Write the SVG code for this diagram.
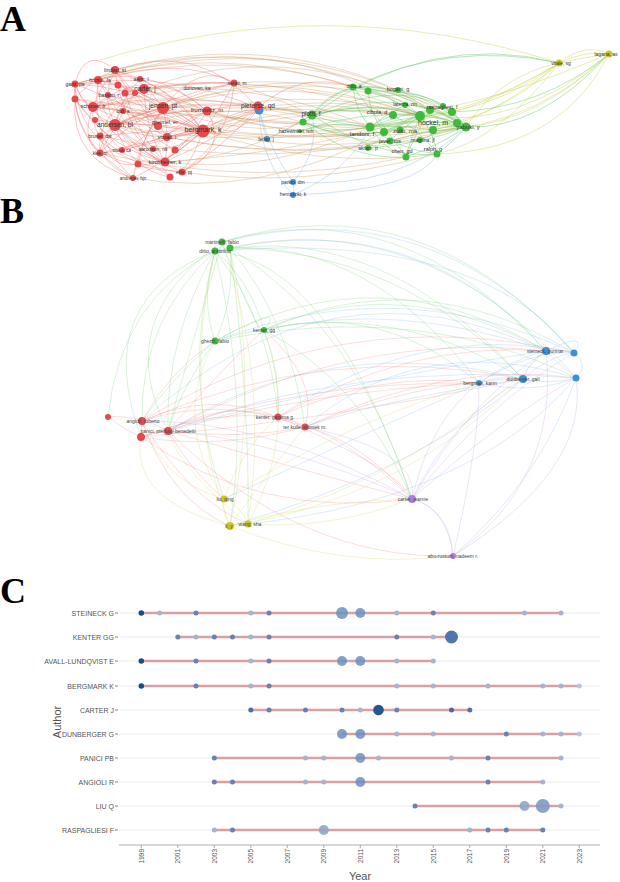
<svg xmlns="http://www.w3.org/2000/svg" width="620" height="882" viewBox="0 0 620 882">
<style>
.pl{font-family:"Liberation Serif",serif;font-weight:bold;font-size:36px;fill:#000}
.lab{font-family:"Liberation Sans",Arial,sans-serif;fill:#333;text-anchor:middle}
.lb{font-family:"Liberation Sans",Arial,sans-serif;fill:#444;text-anchor:middle;font-size:5px}
#connectors path{fill:none;stroke-width:.6}
.er{stroke:#f06a6a;opacity:.4}
.eo{stroke:#c8955a;opacity:.35}
.eg{stroke:#5cc45c;opacity:.45}
.ey{stroke:#c6cc3a;opacity:.55}
.eb{stroke:#6aaae6;opacity:.45}
.ep{stroke:#b08ae0;opacity:.45}
#conn-a path{stroke-width:.7}
#conn-a .er{opacity:.55}
#conn-a .eo{opacity:.5}
#conn-a .eg{opacity:.6}
#conn-b path{opacity:.38}
.nr{fill:#e8474c}.ng{fill:#3dbb3d}.nb{fill:#3f8fd8}.ny{fill:#c9c724}.np{fill:#ad7fe0}
.ax{font-family:"Liberation Sans",Arial,sans-serif;fill:#555}
.grid{stroke:#ebebeb;stroke-width:1}
.rng{stroke:#d6a0a4;stroke-width:2.4}
.d1{fill:#184b8b}.d2{fill:#6a83aa}.d3{fill:#a6b4cd}.bg{fill:#6b90bf;opacity:.85}.bgd{fill:#25568f}
</style>
<rect width="620" height="882" fill="#fff"/>
<text class="pl" x="0" y="31">A</text>
<text class="pl" x="0" y="223">B</text>
<text class="pl" x="0" y="603">C</text>

<g id="connectors">
<g id="conn-a">
<path class="er" d="M115 70 Q145 80 163 108"/><path class="er" d="M115 70 Q100 97 115 125"/><path class="er" d="M115 70 Q170 85 203 131"/>
<path class="er" d="M98 80 Q135 85 163 108"/><path class="er" d="M98 80 Q95 105 115 125"/><path class="er" d="M98 80 Q160 95 203 131"/>
<path class="er" d="M75 84 Q80 100 93 107"/><path class="er" d="M75 84 Q120 85 163 108"/><path class="er" d="M75 84 Q85 112 115 125"/>
<path class="er" d="M75 84 Q72 125 100 153"/><path class="er" d="M144 89 Q180 100 203 131"/><path class="er" d="M144 89 Q122 100 115 125"/>
<path class="er" d="M144 89 Q145 130 165 162"/><path class="er" d="M93 107 Q128 100 163 108"/><path class="er" d="M93 107 Q150 112 203 131"/>
<path class="er" d="M93 107 Q115 145 165 162"/><path class="er" d="M163 108 Q185 115 203 131"/><path class="er" d="M163 108 Q140 112 115 125"/>
<path class="er" d="M163 108 Q170 135 165 162"/><path class="er" d="M163 108 Q140 140 133 178"/><path class="er" d="M115 125 Q160 122 203 131"/>
<path class="er" d="M115 125 Q135 150 165 162"/><path class="er" d="M115 125 Q100 140 100 153"/><path class="er" d="M115 125 Q150 160 182 172"/>
<path class="er" d="M203 131 Q180 140 165 162"/><path class="er" d="M203 131 Q195 155 182 172"/><path class="er" d="M203 131 Q185 131 167 137"/>
<path class="er" d="M207 111 Q185 105 163 108"/><path class="er" d="M207 111 Q160 110 115 125"/><path class="er" d="M207 111 Q140 80 75 84"/>
<path class="er" d="M158 126 Q125 110 93 107"/><path class="er" d="M158 126 Q130 95 115 70"/><path class="er" d="M100 136 Q130 115 163 108"/>
<path class="er" d="M100 136 Q150 130 203 131"/><path class="er" d="M100 153 Q150 140 203 131"/><path class="er" d="M100 153 Q125 125 163 108"/>
<path class="er" d="M122 150 Q165 140 203 131"/><path class="er" d="M153 149 Q130 140 115 125"/><path class="er" d="M138 164 Q145 130 163 108"/>
<path class="er" d="M170 177 Q135 155 115 125"/><path class="er" d="M75 99 Q140 105 203 131"/><path class="er" d="M75 99 Q110 150 165 162"/>
<path class="er" d="M234 83 Q170 95 115 125"/><path class="er" d="M234 83 Q160 80 93 107"/><path class="er" d="M234 83 Q200 92 163 108"/>
<path class="er" d="M140 79 Q120 100 115 125"/><path class="er" d="M140 79 Q180 95 203 131"/><path class="er" d="M108 95 Q160 110 203 131"/>
<path class="er" d="M175 150 Q135 125 93 107"/><path class="er" d="M133 178 Q170 160 203 131"/><path class="er" d="M258 108 Q185 105 115 125"/>
<path class="er" d="M258 108 Q210 100 163 108"/><path class="er" d="M258 108 Q175 90 93 107"/><path class="er" d="M258 108 Q170 70 75 84"/>
<path class="er" d="M258 108 Q230 112 203 131"/><path class="er" d="M258 108 Q215 140 165 162"/><path class="er" d="M182 172 Q80 160 75 84"/>
<path class="er" d="M133 178 Q70 140 75 84"/><path class="er" d="M170 177 Q120 120 115 70"/><path class="er" d="M123 111 Q165 115 203 131"/>
<path class="er" d="M75 84 Q85 45 115 70"/><path class="er" d="M95 120 Q150 125 203 131"/><path class="er" d="M118 85 Q160 105 203 131"/>
<path class="er" d="M125 93 Q140 140 165 162"/><path class="er" d="M135 93 Q110 135 100 153"/><path class="er" d="M100 136 Q130 165 165 162"/>
<path class="er" d="M100 153 Q140 170 182 172"/><path class="er" d="M207 111 Q190 140 165 162"/><path class="er" d="M207 111 Q150 150 100 153"/>
<path class="er" d="M258 108 Q220 150 182 172"/><path class="er" d="M234 83 Q230 140 182 172"/><path class="er" d="M144 89 Q95 115 100 153"/>
<path class="er" d="M167 137 Q130 120 98 80"/><path class="er" d="M153 149 Q180 120 207 111"/><path class="er" d="M138 164 Q110 170 100 136"/>
<path class="er" d="M115 70 Q200 40 258 108"/><path class="er" d="M98 80 Q180 55 234 83"/><path class="er" d="M75 99 Q70 160 133 178"/>
<path class="er" d="M75 84 Q150 60 207 111"/><path class="er" d="M93 107 Q80 140 100 153"/><path class="er" d="M115 70 Q80 110 100 136"/>
<path class="er" d="M98 80 Q90 140 133 178"/><path class="er" d="M144 89 Q190 80 234 83"/><path class="er" d="M163 108 Q200 60 234 83"/>
<path class="er" d="M115 125 Q130 170 170 177"/><path class="er" d="M93 107 Q120 90 144 89"/><path class="er" d="M75 99 Q100 130 122 150"/>
<path class="er" d="M163 108 Q150 140 122 150"/><path class="er" d="M203 131 Q180 150 153 149"/><path class="er" d="M203 131 Q160 170 138 164"/>
<path class="er" d="M258 108 Q200 130 167 137"/><path class="er" d="M258 108 Q240 140 203 131"/><path class="er" d="M258 108 Q170 155 115 125"/>
<path class="er" d="M75 84 Q140 110 158 126"/><path class="er" d="M115 70 Q150 110 167 137"/><path class="er" d="M98 80 Q140 150 165 162"/>
<path class="er" d="M207 111 Q230 150 182 172"/><path class="er" d="M234 83 Q220 110 203 131"/><path class="er" d="M100 153 Q120 175 133 178"/>
<path class="er" d="M75 99 Q90 80 115 70"/><path class="er" d="M93 107 Q150 60 207 111"/>
<path class="eo" d="M163 108 Q290 70 420 116"/><path class="eo" d="M163 108 Q240 100 312 115"/><path class="eo" d="M115 125 Q240 150 370 127"/>
<path class="eo" d="M203 131 Q310 100 420 116"/><path class="eo" d="M203 131 Q330 160 466 127"/><path class="eo" d="M203 131 Q260 120 312 115"/>
<path class="eo" d="M93 107 Q270 60 420 116"/><path class="eo" d="M93 107 Q200 90 312 115"/><path class="eo" d="M144 89 Q260 80 370 127"/>
<path class="eo" d="M144 89 Q270 70 393 115"/><path class="eo" d="M165 162 Q270 175 370 127"/><path class="eo" d="M165 162 Q240 160 312 115"/>
<path class="eo" d="M115 125 Q300 175 466 127"/><path class="eo" d="M75 84 Q210 40 353 87"/><path class="eo" d="M115 70 Q270 30 430 110"/>
<path class="eo" d="M98 80 Q230 45 368 91"/><path class="eo" d="M207 111 Q290 140 370 127"/><path class="eo" d="M207 111 Q310 85 420 116"/>
<path class="eo" d="M158 126 Q270 145 384 132"/><path class="eo" d="M167 137 Q280 160 390 141"/><path class="eo" d="M100 153 Q260 190 406 157"/>
<path class="eo" d="M182 172 Q300 190 437 154"/><path class="eo" d="M133 178 Q260 200 384 132"/><path class="eo" d="M100 136 Q270 175 433 130"/>
<path class="eo" d="M258 108 Q310 110 370 127"/><path class="eo" d="M258 108 Q340 95 420 116"/><path class="eo" d="M258 108 Q285 105 312 115"/>
<path class="eo" d="M234 83 Q330 75 420 116"/><path class="eo" d="M234 83 Q270 95 312 115"/><path class="eo" d="M163 108 Q310 55 452 112"/>
<path class="eo" d="M115 125 Q280 55 430 110"/><path class="eo" d="M203 131 Q320 170 437 154"/><path class="eo" d="M115 70 Q300 20 466 127"/>
<path class="eo" d="M98 80 Q270 20 420 116"/><path class="eo" d="M144 89 Q300 30 466 127"/><path class="eo" d="M75 84 Q260 30 398 91"/>
<path class="eo" d="M203 131 Q290 90 393 115"/><path class="eo" d="M163 108 Q260 140 303 122"/><path class="eo" d="M93 107 Q250 120 370 127"/>
<path class="eo" d="M75 99 Q260 150 384 132"/><path class="eo" d="M207 111 Q330 150 466 127"/><path class="eo" d="M144 89 Q250 130 303 122"/>
<path class="eo" d="M163 108 Q300 130 433 130"/><path class="eo" d="M203 131 Q300 140 384 132"/><path class="eo" d="M115 125 Q260 100 393 115"/>
<path class="eo" d="M165 162 Q320 150 420 116"/><path class="eo" d="M207 111 Q260 110 303 122"/><path class="eo" d="M258 108 Q360 130 466 127"/>
<path class="er" d="M353 87 Q300 70 258 108"/>
<path class="eg" d="M312 115 Q340 125 370 127"/><path class="eg" d="M312 115 Q370 100 420 116"/><path class="eg" d="M312 115 Q350 105 393 115"/>
<path class="eg" d="M312 115 Q390 95 466 127"/><path class="eg" d="M312 115 Q325 95 353 87"/><path class="eg" d="M303 122 Q335 135 370 127"/>
<path class="eg" d="M303 122 Q340 140 384 132"/><path class="eg" d="M303 122 Q350 160 406 157"/><path class="eg" d="M353 87 Q390 95 420 116"/>
<path class="eg" d="M353 87 Q355 110 370 127"/><path class="eg" d="M353 87 Q420 85 466 127"/><path class="eg" d="M353 87 Q395 90 430 110"/>
<path class="eg" d="M368 91 Q400 95 420 116"/><path class="eg" d="M368 91 Q370 115 384 132"/><path class="eg" d="M398 91 Q440 95 466 127"/>
<path class="eg" d="M393 115 Q380 120 370 127"/><path class="eg" d="M393 115 Q430 110 466 127"/><path class="eg" d="M393 115 Q420 130 437 154"/>
<path class="eg" d="M405 105 Q385 115 370 127"/><path class="eg" d="M405 105 Q440 105 466 127"/><path class="eg" d="M430 110 Q400 115 370 127"/>
<path class="eg" d="M430 110 Q405 120 384 132"/><path class="eg" d="M430 110 Q450 115 466 127"/><path class="eg" d="M430 110 Q415 135 406 157"/>
<path class="eg" d="M420 116 Q395 120 370 127"/><path class="eg" d="M420 116 Q400 130 390 141"/><path class="eg" d="M420 116 Q445 118 466 127"/>
<path class="eg" d="M420 116 Q410 140 406 157"/><path class="eg" d="M420 116 Q435 135 437 154"/><path class="eg" d="M433 130 Q400 125 370 127"/>
<path class="eg" d="M433 130 Q450 125 466 127"/><path class="eg" d="M370 127 Q420 115 466 127"/><path class="eg" d="M370 127 Q400 150 437 154"/>
<path class="eg" d="M370 127 Q385 150 406 157"/><path class="eg" d="M384 132 Q425 120 466 127"/><path class="eg" d="M384 132 Q420 115 452 112"/>
<path class="eg" d="M390 141 Q430 130 466 127"/><path class="eg" d="M420 140 Q445 128 466 127"/><path class="eg" d="M368 148 Q395 125 420 116"/>
<path class="eg" d="M368 148 Q420 145 466 127"/><path class="eg" d="M452 112 Q460 118 466 127"/><path class="eg" d="M457 123 Q415 120 370 127"/>
<path class="eg" d="M300 131 Q335 120 370 127"/><path class="eg" d="M300 131 Q360 110 420 116"/><path class="eg" d="M312 115 Q380 160 437 154"/>
<path class="eg" d="M303 122 Q390 80 466 127"/><path class="eg" d="M312 115 Q360 60 430 110"/><path class="eg" d="M312 115 Q420 70 466 127"/>
<path class="eg" d="M406 157 Q440 145 466 127"/><path class="eg" d="M437 154 Q455 140 466 127"/><path class="eg" d="M353 87 Q450 40 559 63"/>
<path class="eg" d="M312 115 Q430 30 559 63"/><path class="eg" d="M466 127 Q540 130 609 54"/><path class="eg" d="M452 112 Q540 110 609 54"/>
<path class="eg" d="M353 87 Q380 120 406 157"/><path class="eg" d="M368 91 Q430 90 452 112"/><path class="eg" d="M303 122 Q370 150 420 140"/>
<path class="ey" d="M559 63 Q500 75 466 127"/><path class="ey" d="M559 63 Q510 100 452 112"/><path class="ey" d="M559 63 Q480 110 420 116"/>
<path class="ey" d="M559 63 Q490 120 433 130"/><path class="ey" d="M559 63 Q470 120 370 127"/><path class="ey" d="M559 63 Q500 140 437 154"/>
<path class="ey" d="M559 63 Q490 130 384 132"/><path class="ey" d="M559 63 Q585 42 609 54"/><path class="ey" d="M559 63 Q585 50 609 54"/>
<path class="ey" d="M559 63 Q580 58 609 54"/><path class="ey" d="M609 54 Q540 120 466 127"/><path class="ey" d="M609 54 Q520 130 420 116"/>
<path class="ey" d="M609 54 Q520 140 384 132"/><path class="ey" d="M609 54 Q500 100 430 110"/><path class="ey" d="M100 60 Q330 -10 559 63"/>
<path class="ey" d="M609 54 Q560 150 437 154"/>
<path class="eb" d="M259 110 Q262 125 267 139"/><path class="eb" d="M259 110 Q270 150 293 182"/><path class="eb" d="M259 110 Q260 160 293 195"/>
<path class="eb" d="M293 182 Q295 189 293 195"/><path class="eb" d="M293 182 Q400 190 466 127"/><path class="eb" d="M293 195 Q350 170 370 127"/>
<path class="eb" d="M267 139 Q285 130 312 115"/><path class="eb" d="M293 195 Q420 190 437 154"/><path class="eb" d="M293 182 Q320 150 312 115"/>
</g>
<g id="conn-b">
<path class="eg" d="M215 251 Q200 300 215 341"/><path class="eg" d="M230 248 Q235 300 215 341"/><path class="eg" d="M215 251 Q140 320 142 421"/>
<path class="eg" d="M215 251 Q165 340 168 431"/><path class="eg" d="M222 242 Q190 350 168 431"/><path class="eg" d="M215 251 Q250 280 264 330"/>
<path class="eg" d="M222 242 Q400 190 546 351"/><path class="eg" d="M222 242 Q420 180 574 353"/><path class="eg" d="M215 251 Q380 220 523 379"/>
<path class="eg" d="M230 248 Q370 240 479 383"/><path class="eg" d="M215 251 Q420 200 576 378"/><path class="eg" d="M230 248 Q290 320 305 427"/>
<path class="eg" d="M215 251 Q270 320 278 417"/><path class="eg" d="M215 251 Q250 400 230 526"/><path class="eg" d="M215 251 Q180 380 224 499"/>
<path class="eg" d="M230 248 Q360 330 412 499"/><path class="eg" d="M215 341 Q180 390 168 431"/><path class="eg" d="M215 341 Q170 380 142 421"/>
<path class="eg" d="M215 341 Q380 250 546 351"/><path class="eg" d="M215 341 Q380 290 523 379"/><path class="eg" d="M264 330 Q400 270 546 351"/>
<path class="eg" d="M264 330 Q420 260 574 353"/><path class="eg" d="M264 330 Q280 370 278 417"/><path class="eg" d="M264 330 Q360 380 412 499"/>
<path class="eg" d="M168 431 Q110 320 222 242"/><path class="eg" d="M141 437 Q90 300 215 251"/><path class="eg" d="M230 248 Q240 240 222 242"/>
<path class="eg" d="M222 242 Q260 340 264 330"/><path class="eg" d="M230 248 Q250 400 248 524"/><path class="eg" d="M215 341 Q290 300 264 330"/>
<path class="eg" d="M215 341 Q420 300 576 378"/><path class="eg" d="M264 330 Q380 300 479 383"/><path class="eg" d="M108 417 Q120 300 215 251"/>
<path class="eg" d="M230 248 Q400 250 523 379"/><path class="eg" d="M215 251 Q330 260 412 499"/>
<path class="er" d="M142 421 Q155 423 168 431"/><path class="er" d="M168 431 Q220 400 278 417"/><path class="er" d="M168 431 Q240 440 305 427"/>
<path class="er" d="M142 421 Q220 395 305 427"/><path class="er" d="M142 421 Q210 390 278 417"/><path class="er" d="M141 437 Q210 410 278 417"/>
<path class="er" d="M141 437 Q220 450 305 427"/><path class="er" d="M168 431 Q350 330 546 351"/><path class="er" d="M142 421 Q330 340 523 379"/>
<path class="er" d="M168 431 Q320 390 479 383"/><path class="er" d="M278 417 Q410 340 546 351"/><path class="er" d="M305 427 Q420 380 523 379"/>
<path class="er" d="M305 427 Q360 440 412 499"/><path class="er" d="M278 417 Q380 370 479 383"/><path class="er" d="M305 427 Q450 360 576 378"/>
<path class="er" d="M168 431 Q300 470 412 499"/><path class="er" d="M142 421 Q170 500 230 526"/><path class="er" d="M168 431 Q190 470 224 499"/>
<path class="er" d="M142 421 Q190 500 248 524"/><path class="er" d="M168 431 Q300 560 453 556"/><path class="er" d="M168 431 Q230 360 264 330"/>
<path class="er" d="M142 421 Q170 370 215 341"/><path class="er" d="M108 417 Q125 415 142 421"/><path class="er" d="M108 417 Q125 430 141 437"/>
<path class="er" d="M278 417 Q292 420 305 427"/><path class="er" d="M141 437 Q300 380 479 383"/><path class="er" d="M142 421 Q340 300 574 353"/>
<path class="er" d="M141 437 Q330 420 523 379"/><path class="er" d="M305 427 Q320 380 264 330"/><path class="er" d="M142 421 Q141 430 141 437"/>
<path class="er" d="M278 417 Q400 470 412 499"/><path class="er" d="M141 437 Q260 520 412 499"/>
<path class="ey" d="M224 499 Q222 512 230 526"/><path class="ey" d="M224 499 Q240 505 248 524"/><path class="ey" d="M230 526 Q239 528 248 524"/>
<path class="ey" d="M230 526 Q260 390 230 248"/><path class="ey" d="M248 524 Q270 380 222 242"/><path class="ey" d="M230 526 Q320 500 412 499"/>
<path class="ey" d="M248 524 Q330 530 412 499"/><path class="ey" d="M224 499 Q240 450 278 417"/><path class="ey" d="M230 526 Q270 470 305 427"/>
<path class="ey" d="M248 524 Q430 470 546 351"/><path class="ey" d="M230 526 Q400 500 523 379"/><path class="ey" d="M224 499 Q160 480 142 421"/>
<path class="ey" d="M230 526 Q340 570 453 556"/><path class="ey" d="M224 499 Q170 420 215 341"/><path class="ey" d="M248 524 Q180 470 168 431"/>
<path class="ey" d="M230 526 Q130 500 141 437"/><path class="ey" d="M248 524 Q300 430 264 330"/><path class="ey" d="M224 499 Q350 420 479 383"/>
<path class="ey" d="M230 526 Q180 400 215 251"/>
<path class="ep" d="M412 499 Q450 510 453 556"/><path class="ep" d="M412 499 Q447 508 453 556"/><path class="ep" d="M412 499 Q430 420 479 383"/>
<path class="ep" d="M412 499 Q450 420 523 379"/><path class="ep" d="M412 499 Q470 400 546 351"/><path class="ep" d="M412 499 Q490 400 574 353"/>
<path class="ep" d="M412 499 Q500 420 576 378"/><path class="ep" d="M412 499 Q340 430 278 417"/><path class="ep" d="M412 499 Q280 440 168 431"/>
<path class="ep" d="M453 556 Q560 480 546 351"/><path class="ep" d="M453 556 Q590 470 576 378"/><path class="ep" d="M412 499 Q270 420 142 421"/>
<path class="ep" d="M453 556 Q480 440 479 383"/><path class="ep" d="M412 499 Q420 450 305 427"/>
<path class="eb" d="M479 383 Q500 375 523 379"/><path class="eb" d="M479 383 Q510 360 546 351"/><path class="eb" d="M479 383 Q530 350 574 353"/>
<path class="eb" d="M479 383 Q530 395 576 378"/><path class="eb" d="M523 379 Q530 360 546 351"/><path class="eb" d="M523 379 Q550 355 574 353"/>
<path class="eb" d="M523 379 Q550 385 576 378"/><path class="eb" d="M546 351 Q560 348 574 353"/><path class="eb" d="M546 351 Q565 370 576 378"/>
<path class="eb" d="M574 353 Q590 365 576 378"/><path class="eb" d="M546 351 Q330 250 142 421"/><path class="eb" d="M523 379 Q330 330 168 431"/>
<path class="eb" d="M574 353 Q420 320 278 417"/><path class="eb" d="M576 378 Q350 360 168 431"/><path class="eb" d="M546 351 Q420 210 230 248"/>
<path class="eb" d="M574 353 Q430 190 222 242"/><path class="eb" d="M523 379 Q420 470 230 526"/><path class="eb" d="M576 378 Q470 500 248 524"/>
<path class="eb" d="M479 383 Q350 440 224 499"/><path class="eb" d="M576 378 Q540 480 453 556"/><path class="eb" d="M546 351 Q400 300 264 330"/>
<path class="eb" d="M574 353 Q400 270 215 341"/><path class="eb" d="M576 378 Q420 330 305 427"/><path class="eb" d="M523 379 Q380 400 305 427"/>
<path class="eb" d="M574 353 Q480 230 215 251"/><path class="eb" d="M546 351 Q350 380 141 437"/><path class="eb" d="M574 353 Q590 330 546 351"/>
</g>
</g>

<g id="nodes-a">
<g id="a-lindau"><circle class="nr" cx="115" cy="70" r="4"/><text class="lab" x="115" y="72" font-size="5.5">lindau, st</text></g>
<g id="a-brotto"><circle class="nr" cx="98" cy="80" r="4"/><text class="lab" x="100" y="82" font-size="5.5">brotto, la</text></g>
<g id="a-ganz"><circle class="nr" cx="75" cy="84" r="3.5"/><text class="lab" x="75" y="86" font-size="5">ganz, pa</text></g>
<g id="a-aerts"><circle class="nr" cx="140" cy="79" r="3"/><text class="lab" x="141" y="81" font-size="5">aerts, l</text></g>
<g id="a-carter"><circle class="nr" cx="144" cy="89" r="5"/><text class="lab" x="145" y="91" font-size="6.5">carter, j</text></g>
<g id="a-basson"><circle class="nr" cx="108" cy="95" r="3"/><text class="lab" x="109" y="97" font-size="5">basson, r</text></g>
<g id="a-n7"><circle class="nr" cx="75" cy="99" r="3.5"/></g>
<g id="a-n28"><circle class="nr" cx="118" cy="85" r="3.5"/></g>
<g id="a-n29"><circle class="nr" cx="125" cy="93" r="3.5"/></g>
<g id="a-n30"><circle class="nr" cx="135" cy="93" r="3"/></g>
<g id="a-donovan"><text class="lab" x="197" y="90" font-size="5">donovan, ka</text></g>
<g id="a-serati"><circle class="nr" cx="234" cy="83" r="3.5"/><text class="lab" x="237" y="85" font-size="5">serati, m</text></g>
<g id="a-schover"><circle class="nr" cx="93" cy="107" r="5"/><text class="lab" x="93" y="108" font-size="5.5">schover, lr</text></g>
<g id="a-jensen"><circle class="nr" cx="163" cy="108" r="6"/><text class="lab" x="163" y="108" font-size="6.5">jensen, pt</text></g>
<g id="a-cull"><circle class="nr" cx="123" cy="111" r="3"/><text class="lab" x="123" y="113" font-size="5">cull, a</text></g>
<g id="a-frumovitz"><circle class="nr" cx="207" cy="111" r="4.5"/><text class="lab" x="207" y="112" font-size="6">frumovitz, m</text></g>
<g id="a-n27"><circle class="nr" cx="95" cy="120" r="3"/></g>
<g id="a-andersen"><circle class="nr" cx="115" cy="125" r="6"/><text class="lab" x="115" y="127" font-size="6.5">andersen, bl</text></g>
<g id="a-greimel"><circle class="nr" cx="158" cy="126" r="4"/><text class="lab" x="165" y="124" font-size="5.5">greimel, er</text></g>
<g id="a-bergmark"><circle class="nr" cx="203" cy="131" r="6.5"/><text class="lab" x="203" y="132" font-size="7">bergmark, k</text></g>
<g id="a-bruner"><circle class="nr" cx="100" cy="136" r="3.5"/><text class="lab" x="100" y="138" font-size="5">bruner, dw</text></g>
<g id="a-vistad"><circle class="nr" cx="167" cy="137" r="4"/><text class="lab" x="167" y="139" font-size="5.5">vistad, i</text></g>
<g id="a-klee"><circle class="nr" cx="100" cy="153" r="3.5"/><text class="lab" x="100" y="155" font-size="4.5">klee, m</text></g>
<g id="a-mous"><circle class="nr" cx="122" cy="150" r="3"/><text class="lab" x="122" y="152" font-size="4.5">mous, ca</text></g>
<g id="a-aaronson"><circle class="nr" cx="153" cy="149" r="3"/><text class="lab" x="153" y="151" font-size="5">aaronson, nk</text></g>
<g id="a-n20"><circle class="nr" cx="175" cy="150" r="3.5"/></g>
<g id="a-kirchheiner"><circle class="nr" cx="165" cy="162" r="4.5"/><text class="lab" x="165" y="164" font-size="5.5">kirchheiner, k</text></g>
<g id="a-eifel"><circle class="nr" cx="182" cy="172" r="3.5"/><text class="lab" x="184" y="174" font-size="5">eifel, pj</text></g>
<g id="a-n23"><circle class="nr" cx="138" cy="164" r="3.5"/></g>
<g id="a-andreyev"><circle class="nr" cx="133" cy="178" r="3"/><text class="lab" x="133" y="180" font-size="4.5">andreyev, hjn</text></g>
<g id="a-n25"><circle class="nr" cx="170" cy="177" r="3.5"/></g>
<g id="a-pieterse"><circle class="nb" cx="259" cy="110" r="4.5"/><circle class="nr" cx="258" cy="106" r="4.5"/><text class="lab" x="258" y="108" font-size="6.5">pieterse, qd</text></g>
<g id="a-ditto"><circle class="ng" cx="353" cy="87" r="3.5"/><text class="lab" x="354" y="88" font-size="5">ditto, a</text></g>
<g id="a-n-g2"><circle class="ng" cx="368" cy="91" r="3.5"/></g>
<g id="a-bogani"><circle class="ng" cx="398" cy="90" r="3"/><text class="lab" x="398" y="91" font-size="5.5">bogani, g</text></g>
<g id="a-laterza"><circle class="ng" cx="405" cy="105" r="3"/><text class="lab" x="405" y="106" font-size="5">laterza, rm</text></g>
<g id="a-raspagliesi"><circle class="ng" cx="430" cy="110" r="4"/><circle class="ng" cx="452" cy="112" r="4"/><circle class="ng" cx="443" cy="106" r="3"/><text class="lab" x="442" y="109" font-size="5.5">raspagliesi, f</text></g>
<g id="a-cibula"><circle class="ng" cx="393" cy="115" r="4"/><text class="lab" x="377" y="114" font-size="5.5">cibula, d</text></g>
<g id="a-plotti"><circle class="ng" cx="312" cy="115" r="4.5"/><circle class="ng" cx="303" cy="122" r="3.5"/><text class="lab" x="311" y="116" font-size="6.5">plotti, f</text></g>
<g id="a-hockel"><circle class="ng" cx="420" cy="116" r="5"/><circle class="ng" cx="433" cy="130" r="4"/><text class="lab" x="433" y="125" font-size="7">hockel, m</text></g>
<g id="a-yabuki"><circle class="ng" cx="466" cy="127" r="4.5"/><circle class="ng" cx="457" cy="123" r="4"/><text class="lab" x="468" y="129" font-size="6">yabuki, y</text></g>
<g id="a-hazewinkel"><circle class="ng" cx="300" cy="131" r="2"/><text class="lab" x="296" y="133" font-size="5">hazewinkel, mh</text></g>
<g id="a-landoni"><circle class="ng" cx="370" cy="127" r="4.5"/><text class="lab" x="362" y="136" font-size="6">landoni, f</text></g>
<g id="a-zullo"><circle class="ng" cx="384" cy="132" r="4"/><circle class="ng" cx="400" cy="130" r="3.5"/><text class="lab" x="405" y="133" font-size="6">zullo, ma</text></g>
<g id="a-piver"><circle class="ng" cx="390" cy="141" r="3.5"/><text class="lab" x="390" y="143" font-size="5.5">piver, ms</text></g>
<g id="a-magrina"><circle class="ng" cx="420" cy="140" r="3"/><text class="lab" x="423" y="142" font-size="5">magrina, jf</text></g>
<g id="a-akram"><circle class="ng" cx="368" cy="148" r="3"/><text class="lab" x="368" y="150" font-size="5">akram, p</text></g>
<g id="a-chen"><circle class="ng" cx="406" cy="157" r="3.5"/><text class="lab" x="402" y="153" font-size="5.5">chen, gd</text></g>
<g id="a-ralph"><circle class="ng" cx="437" cy="154" r="3.5"/><text class="lab" x="433" y="151" font-size="5.5">ralph, g</text></g>
<g id="a-ferlay"><circle class="nb" cx="267" cy="139" r="3"/><text class="lab" x="266" y="141" font-size="5">ferlay, j</text></g>
<g id="a-parkin"><circle class="nb" cx="293" cy="182" r="3"/><text class="lab" x="293" y="184" font-size="5">parkin, dm</text></g>
<g id="a-hemminki"><circle class="nb" cx="293" cy="195" r="3"/><text class="lab" x="293" y="196" font-size="5">hemminki, k</text></g>
<g id="a-vitale"><circle class="ny" cx="559" cy="63" r="3.5"/><text class="lab" x="561" y="65" font-size="5">vitale, sg</text></g>
<g id="a-lagana"><circle class="ny" cx="609" cy="54" r="3.5"/><text class="lab" x="606" y="56" font-size="5">lagana, as</text></g>
</g>

<g id="nodes-b">
<g id="b-martinelli"><circle class="ng" cx="222" cy="242" r="3.5"/><text class="lb" x="222" y="243.5">martinelli, fabio</text></g>
<g id="b-ditto"><circle class="ng" cx="215" cy="251" r="3.5"/><circle class="ng" cx="230" cy="248" r="3.5"/><text class="lb" x="215" y="252.5">ditto, antonino</text></g>
<g id="b-kentergg"><circle class="ng" cx="264" cy="330" r="3"/><text class="lb" x="264" y="331.5">kenter, gg</text></g>
<g id="b-ghezzi"><circle class="ng" cx="215" cy="341" r="3.5"/><text class="lb" x="215" y="342.5">ghezzi, fabio</text></g>
<g id="b-red1"><circle class="nr" cx="108" cy="417" r="3"/></g>
<g id="b-angioli"><circle class="nr" cx="142" cy="421" r="4"/><text class="lb" x="143" y="423">angioli, roberto</text></g>
<g id="b-panici"><circle class="nr" cx="168" cy="431" r="4"/><circle class="nr" cx="141" cy="437" r="4"/><text class="lb" x="168" y="432.5">panici, pierluigi benedetti</text></g>
<g id="b-kentergemma"><circle class="nr" cx="278" cy="417" r="3.5"/><text class="lb" x="275" y="418.5">kenter, gemma g.</text></g>
<g id="b-terkuile"><circle class="nr" cx="305" cy="427" r="3.5"/><text class="lb" x="305" y="428.5">ter kuile, moniek m.</text></g>
<g id="b-bergman"><circle class="nb" cx="479" cy="383" r="3"/><text class="lb" x="480" y="384.5">bergman, karin</text></g>
<g id="b-dunberger"><circle class="nb" cx="523" cy="379" r="4"/><text class="lb" x="523" y="381">dunberger, gail</text></g>
<g id="b-steineck"><circle class="nb" cx="546" cy="351" r="4"/><text class="lb" x="545" y="352.5">steineck, gunnar</text></g>
<g id="b-blue4"><circle class="nb" cx="574" cy="353" r="3.5"/></g>
<g id="b-blue5"><circle class="nb" cx="576" cy="378" r="3.5"/></g>
<g id="b-liu"><circle class="ny" cx="224" cy="499" r="3.5"/><text class="lb" x="225" y="500.5">liu, qing</text></g>
<g id="b-li"><circle class="ny" cx="230" cy="526" r="4"/><text class="lb" x="229" y="527.5">li, y</text></g>
<g id="b-wang"><circle class="ny" cx="248" cy="524" r="3.5"/><text class="lb" x="250" y="525.5">wang, sha</text></g>
<g id="b-carter"><circle class="np" cx="412" cy="499" r="4"/><text class="lb" x="413" y="501">carter, jeanne</text></g>
<g id="b-aburustum"><circle class="np" cx="453" cy="556" r="3"/><text class="lb" x="453" y="558">abu-rustum, nadeem r.</text></g>
</g>

<g id="chart-c">
<g id="grid">
<line class="grid" x1="119" y1="613" x2="600" y2="613"/><line class="grid" x1="119" y1="637" x2="600" y2="637"/>
<line class="grid" x1="119" y1="661" x2="600" y2="661"/><line class="grid" x1="119" y1="686" x2="600" y2="686"/>
<line class="grid" x1="119" y1="710" x2="600" y2="710"/><line class="grid" x1="119" y1="734" x2="600" y2="734"/>
<line class="grid" x1="119" y1="758" x2="600" y2="758"/><line class="grid" x1="119" y1="782" x2="600" y2="782"/>
<line class="grid" x1="119" y1="806" x2="600" y2="806"/><line class="grid" x1="119" y1="830" x2="600" y2="830"/>
</g>
<g id="ylabels" class="ax" font-size="7" text-anchor="end">
<text x="114" y="615.5">STEINECK G</text><text x="114" y="639.5">KENTER GG</text><text x="114" y="663.5">AVALL-LUNDQVIST E</text>
<text x="114" y="688.5">BERGMARK K</text><text x="114" y="712.5">CARTER J</text><text x="114" y="736.5">DUNBERGER G</text>
<text x="114" y="760.5">PANICI PB</text><text x="114" y="784.5">ANGIOLI R</text><text x="114" y="808.5">LIU Q</text><text x="114" y="832.5">RASPAGLIESI F</text>
</g>
<g id="yticks" stroke="#666" stroke-width=".8">
<line x1="115" y1="613" x2="118" y2="613"/><line x1="115" y1="637" x2="118" y2="637"/><line x1="115" y1="661" x2="118" y2="661"/>
<line x1="115" y1="686" x2="118" y2="686"/><line x1="115" y1="710" x2="118" y2="710"/><line x1="115" y1="734" x2="118" y2="734"/>
<line x1="115" y1="758" x2="118" y2="758"/><line x1="115" y1="782" x2="118" y2="782"/><line x1="115" y1="806" x2="118" y2="806"/>
<line x1="115" y1="830" x2="118" y2="830"/>
</g>
<text class="ax" font-size="11" transform="translate(61,722) rotate(-90)" text-anchor="middle">Author</text>

<g id="row-steineck" transform="translate(0,613)">
<line class="rng" x1="141.3" y1="0" x2="561" y2="0"/>
<circle class="d1" cx="141.3" cy="0" r="2.8"/><circle class="d3" cx="159.6" cy="0" r="2.5"/><circle class="d2" cx="196" cy="0" r="2.5"/>
<circle class="d3" cx="250.8" cy="0" r="2.5"/><circle class="d2" cx="269" cy="0" r="2.5"/><circle class="bg" cx="342" cy="0" r="6"/>
<circle class="bg" cx="360.3" cy="0" r="5"/><circle class="d3" cx="396.8" cy="0" r="2.5"/><circle class="d2" cx="433.3" cy="0" r="2.5"/>
<circle class="d3" cx="524.5" cy="0" r="2.5"/><circle class="d3" cx="561" cy="0" r="2.5"/>
</g>
<g id="row-kenter" transform="translate(0,637)">
<line class="rng" x1="177.8" y1="0" x2="451.5" y2="0"/>
<circle class="d2" cx="177.8" cy="0" r="2.5"/><circle class="d3" cx="196" cy="0" r="2.5"/><circle class="d2" cx="214.3" cy="0" r="2.5"/>
<circle class="d2" cx="232.5" cy="0" r="2.5"/><circle class="d3" cx="250.8" cy="0" r="2.5"/><circle class="d2" cx="269" cy="0" r="2.5"/>
<circle class="d2" cx="396.8" cy="0" r="2.5"/><circle class="d3" cx="433.3" cy="0" r="2.5"/><circle fill="#4d78ad" cx="451.5" cy="0" r="6.5"/>
</g>
<g id="row-avall" transform="translate(0,661)">
<line class="rng" x1="141.3" y1="0" x2="433.3" y2="0"/>
<circle class="d1" cx="141.3" cy="0" r="2.8"/><circle class="d2" cx="196" cy="0" r="2.5"/><circle class="d3" cx="250.8" cy="0" r="2.5"/>
<circle class="d2" cx="269" cy="0" r="2.5"/><circle class="bg" cx="342" cy="0" r="5"/><circle class="bg" cx="360.3" cy="0" r="5"/>
<circle class="d3" cx="396.8" cy="0" r="2.5"/><circle class="d3" cx="433.3" cy="0" r="2.5"/>
</g>
<g id="row-bergmark" transform="translate(0,686)">
<line class="rng" x1="141.3" y1="0" x2="579.3" y2="0"/>
<circle class="d1" cx="141.3" cy="0" r="2.8"/><circle class="d2" cx="196" cy="0" r="2.5"/><circle class="d3" cx="250.8" cy="0" r="2.5"/>
<circle class="d2" cx="269" cy="0" r="2.5"/><circle class="d3" cx="396.8" cy="0" r="2.5"/><circle class="d3" cx="433.3" cy="0" r="2.5"/>
<circle class="d3" cx="488" cy="0" r="2.5"/><circle class="d3" cx="542.8" cy="0" r="2.5"/><circle class="d3" cx="561" cy="0" r="2.5"/>
<circle fill="#bcc6da" cx="579.3" cy="0" r="2.5"/>
</g>
<g id="row-carter" transform="translate(0,710)">
<line class="rng" x1="250.8" y1="0" x2="469.8" y2="0"/>
<circle fill="#4b6f9f" cx="250.8" cy="0" r="2.5"/><circle class="d2" cx="269" cy="0" r="2.5"/><circle class="d2" cx="305.5" cy="0" r="2.5"/>
<circle class="d2" cx="342" cy="0" r="2.5"/><circle class="d3" cx="360.3" cy="0" r="2.5"/><circle class="bgd" cx="378.5" cy="0" r="5.3"/>
<circle class="d2" cx="396.8" cy="0" r="2.5"/><circle fill="#4d6893" cx="451.5" cy="0" r="2.5"/><circle fill="#5a749d" cx="469.8" cy="0" r="2.5"/>
</g>
<g id="row-dunberger" transform="translate(0,734)">
<line class="rng" x1="342" y1="0" x2="579.3" y2="0"/>
<circle class="bg" cx="342" cy="0" r="5"/><circle class="bg" cx="360.3" cy="0" r="5"/><circle class="d3" cx="396.8" cy="0" r="2.5"/>
<circle class="d3" cx="433.3" cy="0" r="2.5"/><circle class="d2" cx="506.3" cy="0" r="2.5"/><circle class="d3" cx="542.8" cy="0" r="2.5"/>
<circle class="d3" cx="561" cy="0" r="2.5"/><circle fill="#bcc6da" cx="579.3" cy="0" r="2.5"/>
</g>
<g id="row-panici" transform="translate(0,758)">
<line class="rng" x1="214.3" y1="0" x2="561" y2="0"/>
<circle class="d2" cx="214.3" cy="0" r="2.5"/><circle class="d3" cx="305.5" cy="0" r="2.5"/><circle class="d3" cx="323.8" cy="0" r="2.5"/>
<circle class="bg" cx="360.3" cy="0" r="5"/><circle class="d3" cx="378.5" cy="0" r="2.5"/><circle class="d3" cx="451.5" cy="0" r="2.5"/>
<circle class="d2" cx="488" cy="0" r="2.5"/><circle class="d3" cx="561" cy="0" r="2.5"/>
</g>
<g id="row-angioli" transform="translate(0,782)">
<line class="rng" x1="214.3" y1="0" x2="542.8" y2="0"/>
<circle class="d2" cx="214.3" cy="0" r="2.5"/><circle class="d2" cx="232.5" cy="0" r="2.5"/><circle class="d3" cx="305.5" cy="0" r="2.5"/>
<circle class="d3" cx="323.8" cy="0" r="2.5"/><circle class="bg" cx="360.3" cy="0" r="5"/><circle class="d2" cx="488" cy="0" r="2.5"/>
<circle class="d3" cx="542.8" cy="0" r="2.5"/>
</g>
<g id="row-liu" transform="translate(0,806)">
<line class="rng" x1="415" y1="0" x2="561" y2="0"/>
<circle class="d2" cx="415" cy="0" r="2.5"/><circle fill="#8ea6c8" opacity=".9" cx="524.5" cy="0" r="5"/>
<circle fill="#7e9ac2" opacity=".9" cx="542.8" cy="0" r="7"/><circle class="d3" cx="561" cy="0" r="2.5"/>
</g>
<g id="row-raspagliesi" transform="translate(0,830)">
<line class="rng" x1="214.3" y1="0" x2="542.8" y2="0"/>
<circle class="d3" cx="214.3" cy="0" r="2.5"/><circle class="d2" cx="232.5" cy="0" r="2.5"/><circle fill="#8ea6c8" opacity=".9" cx="323.8" cy="0" r="5"/>
<circle class="d3" cx="469.8" cy="0" r="2.5"/><circle class="d2" cx="488" cy="0" r="2.5"/><circle class="d2" cx="506.3" cy="0" r="2.5"/>
<circle class="d2" cx="542.8" cy="0" r="2.5"/>
</g>

<g id="xaxis">
<line x1="119" y1="845" x2="600" y2="845" stroke="#999" stroke-width=".8"/>
<g stroke="#999" stroke-width=".8">
<line x1="141.3" y1="845" x2="141.3" y2="848"/><line x1="177.8" y1="845" x2="177.8" y2="848"/><line x1="214.3" y1="845" x2="214.3" y2="848"/>
<line x1="250.8" y1="845" x2="250.8" y2="848"/><line x1="287.3" y1="845" x2="287.3" y2="848"/><line x1="323.8" y1="845" x2="323.8" y2="848"/>
<line x1="360.3" y1="845" x2="360.3" y2="848"/><line x1="396.8" y1="845" x2="396.8" y2="848"/><line x1="433.3" y1="845" x2="433.3" y2="848"/>
<line x1="469.8" y1="845" x2="469.8" y2="848"/><line x1="506.3" y1="845" x2="506.3" y2="848"/><line x1="542.8" y1="845" x2="542.8" y2="848"/>
<line x1="579.3" y1="845" x2="579.3" y2="848"/>
</g>
<g class="ax" font-size="6.5" text-anchor="end">
<text transform="translate(143.6,849) rotate(-90)">1999</text><text transform="translate(180.1,849) rotate(-90)">2001</text>
<text transform="translate(216.6,849) rotate(-90)">2003</text><text transform="translate(253.1,849) rotate(-90)">2005</text>
<text transform="translate(289.6,849) rotate(-90)">2007</text><text transform="translate(326.1,849) rotate(-90)">2009</text>
<text transform="translate(362.6,849) rotate(-90)">2011</text><text transform="translate(399.1,849) rotate(-90)">2013</text>
<text transform="translate(435.6,849) rotate(-90)">2015</text><text transform="translate(472.1,849) rotate(-90)">2017</text>
<text transform="translate(508.6,849) rotate(-90)">2019</text><text transform="translate(545.1,849) rotate(-90)">2021</text>
<text transform="translate(581.6,849) rotate(-90)">2023</text>
</g>
<text class="ax" x="360" y="880" font-size="11" text-anchor="middle">Year</text>
</g>
</g>
</svg>
